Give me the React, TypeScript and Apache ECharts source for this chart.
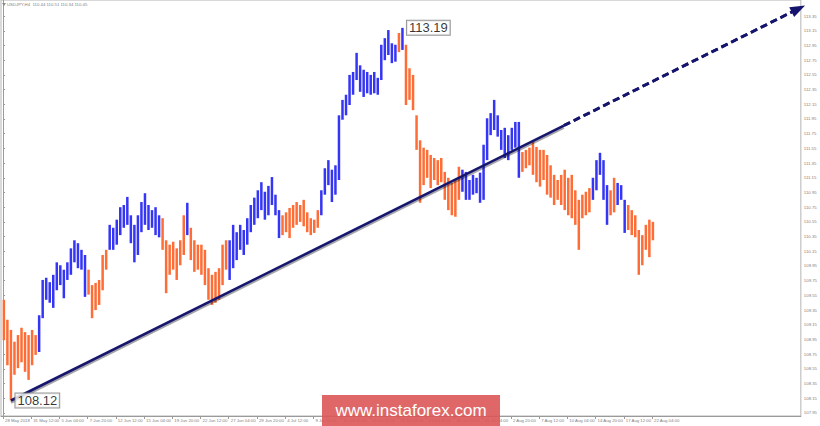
import React, { useEffect, useRef } from "react";
import * as echarts from "echarts";

const symbolName = "USDJPY,H4";
const quote = [110.44, 110.51, 110.34, 110.45];
const lastPrice = 110.45;

const timeLabels = [
  "28 May 2018", "31 May 12:00", "5 Jun 04:00", "7 Jun 20:00", "12 Jun 12:00", "15 Jun 04:00",
  "19 Jun 20:00", "22 Jun 12:00", "27 Jun 04:00", "29 Jun 20:00", "4 Jul 12:00", "9 Jul 04:00",
  "11 Jul 20:00", "16 Jul 12:00", "19 Jul 04:00", "23 Jul 20:00", "26 Jul 12:00", "31 Jul 04:00",
  "2 Aug 20:00", "7 Aug 12:00", "10 Aug 04:00", "14 Aug 20:00", "17 Aug 12:00", "22 Aug 04:00",
];

const priceTicks = [
  107.95, 108.15, 108.35, 108.55, 108.75, 108.95, 109.15, 109.35, 109.55, 109.75,
  109.95, 110.15, 110.35, 110.55, 110.75, 110.95, 111.15, 111.35, 111.55, 111.75,
  111.95, 112.15, 112.35, 112.55, 112.75, 112.95, 113.15, 113.35,
];

// 8-hour points (each covers two H4 bars)
const highs = [
  109.49, 109.22, 109.08, 108.92, 109.01, 109.11, 109.05, 109.01, 109.08, 109.01,
  109.28, 109.76, 109.79, 109.73, 109.83, 110.0, 109.96, 109.9, 110.0, 110.19,
  110.3, 110.26, 110.17, 110.1, 109.9, 109.69, 109.72, 109.76, 110.1, 110.17,
  110.51, 110.47, 110.58, 110.75, 110.78, 110.89, 110.64, 110.51, 110.64, 110.82,
  110.94, 110.78, 110.71, 110.75, 110.64, 110.6, 110.3, 110.24, 110.28, 110.19,
  110.3, 110.64, 110.81, 110.47, 110.3, 110.24, 110.24, 110.17, 109.92, 109.83,
  109.87, 109.92, 110.24, 110.3, 110.3, 110.51, 110.41, 110.51, 110.44, 110.6,
  110.78, 110.88, 110.98, 111.09, 110.96, 111.04, 111.16, 110.92, 110.71, 110.64,
  110.68, 110.74, 110.78, 110.82, 110.78, 110.85, 110.68, 110.6, 110.58, 110.71,
  110.98, 111.28, 111.39, 111.26, 111.32, 112.0, 112.21, 112.28, 112.55, 112.59,
  112.85, 112.68, 112.62, 112.59, 112.55, 112.59, 112.51, 112.96, 113.05, 113.16,
  112.98, 112.96, 113.12, 113.19, 112.96, 112.64, 112.55, 112.0, 111.66, 111.56,
  111.53, 111.46, 111.42, 111.39, 111.42, 111.23, 111.15, 111.08, 111.12, 111.3,
  111.26, 111.23, 111.12, 111.19, 111.15, 111.22, 111.6, 111.96, 112.03, 112.21,
  112.0, 111.8, 111.83, 111.73, 111.83, 111.91, 111.91, 111.5, 111.53, 111.56,
  111.64, 111.57, 111.53, 111.53, 111.46, 111.32, 111.19, 111.12, 111.19, 111.26,
  111.15, 111.19, 110.98, 110.85, 110.92, 110.96, 111.01, 111.15, 111.39, 111.49,
  111.39, 111.05, 110.98, 111.15, 111.08, 111.05, 110.85, 110.78, 110.71, 110.64,
  110.44, 110.37, 110.51, 110.58, 110.55,
];
const lows = [
  108.94, 108.6, 108.12, 108.47, 108.56, 108.64, 108.51, 108.4, 108.6, 108.74,
  108.78, 109.24, 109.49, 109.45, 109.38, 109.62, 109.69, 109.51, 109.76, 109.83,
  110.0, 109.92, 109.9, 109.53, 109.56, 109.24, 109.35, 109.42, 109.62, 109.9,
  110.17, 110.17, 110.24, 110.37, 110.47, 110.51, 110.26, 110.0, 110.1, 110.41,
  110.51, 110.44, 110.47, 110.37, 110.34, 110.17, 109.58, 109.83, 109.9, 109.76,
  109.96, 110.1, 110.37, 110.03, 109.87, 109.9, 109.83, 109.69, 109.49, 109.42,
  109.45, 109.49, 109.69, 109.9, 109.76, 109.92, 110.03, 110.17, 110.1, 110.24,
  110.41, 110.51, 110.6, 110.71, 110.58, 110.64, 110.78, 110.64, 110.33, 110.37,
  110.41, 110.33, 110.47, 110.51, 110.55, 110.49, 110.41, 110.37, 110.4, 110.47,
  110.64, 110.92, 111.05, 110.82, 110.92, 111.12, 111.94, 112.0, 112.14, 112.28,
  112.48, 112.32, 112.25, 112.3, 112.28, 112.3, 112.28, 112.48, 112.75, 112.82,
  112.71, 112.73, 112.86, 112.89, 112.14, 112.21, 112.07, 111.53, 110.81, 111.05,
  111.15, 111.01, 111.12, 111.05, 111.09, 110.85, 110.71, 110.64, 110.62, 110.85,
  110.96, 110.85, 110.85, 110.92, 110.94, 110.81, 110.85, 111.39, 111.73, 111.8,
  111.71, 111.53, 111.42, 111.39, 111.53, 111.56, 111.15, 111.23, 111.28, 111.32,
  111.19, 111.09, 111.03, 111.12, 110.92, 110.88, 110.78, 110.85, 110.78, 110.71,
  110.64, 110.6, 110.51, 110.17, 110.6, 110.64, 110.68, 110.85, 110.98, 111.19,
  110.85, 110.51, 110.64, 110.68, 110.78, 110.85, 110.4, 110.44, 110.37, 110.34,
  109.83, 109.96, 110.17, 110.07, 110.3,
];

// zigzag waves: first wave is a down wave, then alternating
const waveStarts = [0, 10, 24, 30, 45, 52, 53, 64, 79, 90, 112, 113, 114, 130, 147, 167, 172, 174, 177];

const pivots = [
  { point: 2, price: 108.12 },
  { point: 113, price: 113.19 },
];

// trend line in (H4 bar index, price)
const trendSolid = [[4.5, 108.12], [318, 111.86]];
const trendDashed = [[318, 111.86], [451, 113.45]];

const H4_PER_POINT = 2;
const H4_PER_LABEL = 16;

const UP = "#3535f5";
const DOWN = "#ff6d36";
const NAVY = "#15156e";

function xOfPoint(j: number) {
  return j * H4_PER_POINT + 0.5;
}

function waveDir(j: number) {
  let k = 0;
  for (let w = 0; w < waveStarts.length; w++) if (waveStarts[w] <= j) k = w;
  return k % 2 === 0 ? 0 : 1;
}

export default function App() {
  const ref = useRef<HTMLDivElement>(null);
  useEffect(() => {
    if (!ref.current) return;
    const chart = echarts.init(ref.current, null, { renderer: "svg" });
    const barData = highs.map((h, j) => [xOfPoint(j), h, lows[j], waveDir(j)]);
    const labelTicks = timeLabels.map((_, k) => k * H4_PER_LABEL);
    const smallFont = { fontSize: 4.3, color: "#808080", fontFamily: "Liberation Sans" };

    chart.setOption({
      animation: false,
      backgroundColor: "#ffffff",
      grid: { left: 1, right: 18, top: 0, bottom: 10, show: true, borderColor: "#b4b4b4", borderWidth: 1 },
      xAxis: {
        type: "value",
        min: -1.13,
        max: 452.4,
        axisLine: { show: true, lineStyle: { color: "#9a9a9a" } },
        splitLine: { show: false },
        axisTick: { show: true, customValues: labelTicks, length: 3, lineStyle: { color: "#9a9a9a" } },
        axisLabel: {
          customValues: labelTicks,
          formatter: (v: number) => timeLabels[Math.round(v / H4_PER_LABEL)] ?? "",
          align: "left",
          margin: 2.5,
          padding: [0, 0, 0, 2],
          ...smallFont,
        },
      },
      yAxis: {
        type: "value",
        position: "right",
        min: 107.909,
        max: 113.569,
        scale: true,
        axisLine: { show: true, lineStyle: { color: "#9a9a9a" } },
        splitLine: { show: false },
        axisTick: { show: true, customValues: priceTicks, length: 2, lineStyle: { color: "#9a9a9a" } },
        axisLabel: {
          customValues: priceTicks,
          formatter: (v: number) => v.toFixed(2),
          margin: 3,
          ...smallFont,
        },
      },
      graphic: [
        { type: "polygon", shape: { points: [[2, 3], [6, 3], [4, 6]] }, style: { fill: "#8a8a8a" }, z: 50 },
        {
          type: "text",
          x: 7,
          y: 2.5,
          style: {
            text: symbolName + "  " + quote.map((q) => q.toFixed(2)).join(" "),
            fill: "#808080",
            fontSize: 4.3,
            fontFamily: "Liberation Sans",
          },
          z: 50,
        },
        {
          type: "group",
          z: 100,
          children: [
            { type: "rect", shape: { x: 322, y: 395, width: 178, height: 31 }, style: { fill: "#dc5757", opacity: 0.9 }, z: 100 },
            {
              type: "text",
              x: 411,
              y: 410.5,
              style: {
                text: "www.instaforex.com",
                fill: "#ffffff",
                fontSize: 17,
                fontFamily: "Liberation Sans",
                align: "center",
                verticalAlign: "middle",
              },
              z: 101,
            },
          ],
        },
      ],
      series: [
        {
          type: "custom",
          data: barData,
          encode: { x: 0, y: [1, 2] },
          renderItem: (params: any, api: any) => {
            const x = api.value(0);
            const top = api.coord([x, api.value(1)]);
            const bot = api.coord([x, api.value(2)]);
            return {
              type: "rect",
              shape: { x: top[0] - 1.25, y: top[1], width: 2.5, height: Math.max(1, bot[1] - top[1]) },
              style: { fill: api.value(3) ? UP : DOWN },
            };
          },
          z: 2,
        },
        {
          type: "line",
          data: trendSolid,
          symbol: "none",
          lineStyle: { color: NAVY, width: 2.6, shadowColor: "rgba(0,0,0,0.35)", shadowBlur: 1, shadowOffsetY: 2 },
          z: 5,
          markLine: {
            silent: true,
            symbol: "none",
            lineStyle: { opacity: 0 },
            label: {
              show: true,
              position: "end",
              distance: 1,
              formatter: () => lastPrice.toFixed(2),
              backgroundColor: "#4e5d6c",
              color: "#ffffff",
              fontSize: 4.3,
              fontFamily: "Liberation Sans",
              padding: [1, 1, 0, 1],
            },
            data: [{ yAxis: lastPrice }],
          },
        },
        {
          type: "line",
          data: trendDashed,
          symbol: "none",
          lineStyle: { color: NAVY, width: 2.8, type: [7, 4] },
          z: 5,
          markLine: {
            silent: true,
            symbol: ["none", "triangle"],
            symbolSize: [11, 15],
            lineStyle: { color: NAVY, width: 2.8, type: [7, 4] },
            label: { show: false },
            data: [[{ coord: trendDashed[0] }, { coord: trendDashed[1] }]],
          },
        },
        {
          type: "scatter",
          data: pivots.map((p) => [xOfPoint(p.point), p.price]),
          symbolSize: 1,
          itemStyle: { color: "rgba(0,0,0,0)" },
          z: 10,
          label: {
            show: true,
            position: "right",
            distance: 4,
            formatter: (p: any) => p.value[1].toFixed(2),
            color: "#000000",
            fontSize: 13,
            fontFamily: "Liberation Sans",
            backgroundColor: "#ffffff",
            borderColor: "#7a7a7a",
            borderWidth: 1,
            padding: [1, 2, 0, 2],
          },
        },
      ],
    });
    return () => chart.dispose();
  }, []);
  return <div ref={ref} style={{ position: "fixed", left: 0, top: 0, width: 820, height: 426 }} />;
}
